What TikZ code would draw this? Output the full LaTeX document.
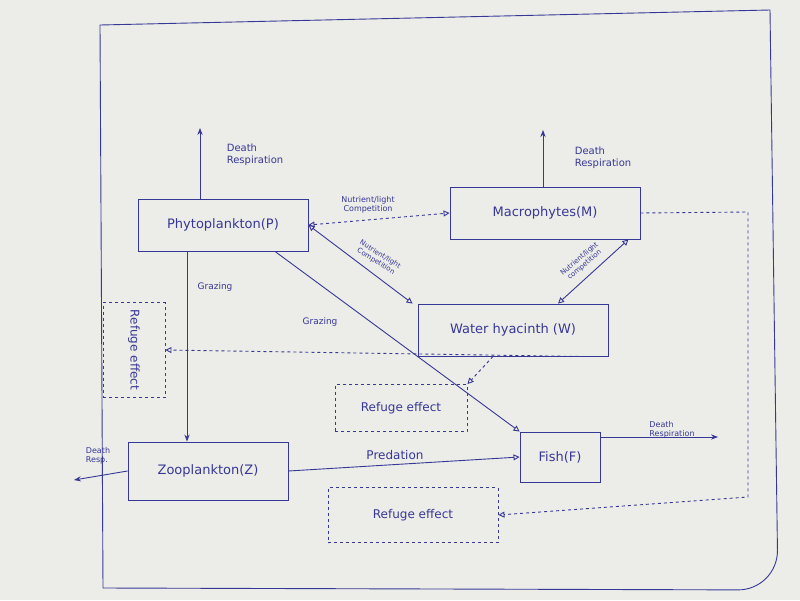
\documentclass[tikz,border=0pt]{standalone}
\usepackage{fontspec}
\setmainfont{DejaVu Sans}
\usetikzlibrary{arrows.meta}
\definecolor{ink}{RGB}{55,55,150}
\definecolor{paper}{RGB}{236,236,232}
\begin{document}
\begin{tikzpicture}[x=1pt,y=-1pt,ink,line width=0.9pt,
 box/.style={draw,minimum width=#1,minimum height=52pt,inner sep=2pt,font=\fontsize{13}{15}\selectfont},
 dbox/.style={draw,dashed,inner sep=2pt,font=\fontsize{12}{14}\selectfont},
 lab/.style={font=\fontsize{8}{9}\selectfont,align=left,inner sep=1pt},
 tri/.style={-{Triangle[open,length=6pt,width=6pt]}},
 dtri/.style={{Triangle[open,length=6pt,width=6pt]}-{Triangle[open,length=6pt,width=6pt]}},
 ar/.style={-{Stealth[length=7pt]}}]
\useasboundingbox (0,0) rectangle (800,600);
\fill[paper] (0,0) rectangle (800,600);
\draw (100,25) -- (770,10) [rounded corners=40pt] -- (778,590) [sharp corners] -- (103,588) -- cycle;
\node[box=170pt] (P) at (223,225) {Phytoplankton(P)};
\node[box=190pt] (M) at (545,213) {Macrophytes(M)};
\node[box=190pt] (W) at (513,330) {Water hyacinth (W)};
\node[box=80pt,minimum height=50pt] (F) at (560,457) {Fish(F)};
\node[box=160pt,minimum height=58pt] (Z) at (208,471) {Zooplankton(Z)};
\node[dbox,minimum width=62pt,minimum height=95pt] (R1) at (134,350) {};
\node[rotate=-90,font=\fontsize{12}{14}\selectfont] at (134,350) {Refuge effect};
\node[dbox,minimum width=132pt,minimum height=47pt] (R2) at (401,408) {Refuge effect};
\node[dbox,minimum width=170pt,minimum height=55pt] (R3) at (413,515) {Refuge effect};
\coordinate (pu) at (200,128); \coordinate (mu) at (543,130);
\coordinate (wd) at (692,320); \coordinate (fd) at (718,437); \coordinate (zd) at (74,480);
\coordinate (gz) at (187,0);
\draw[ar] (P.north-|pu) -- (pu);
\node[lab,font=\fontsize{10}{12}\selectfont] at (255,155) {Death\\Respiration};
\draw[ar] (M.north-|mu) -- (mu);
\node[lab,font=\fontsize{10}{12}\selectfont] at (603,158) {Death\\Respiration};
\draw[dashed,dtri] (P.east) -- (M.west);
\node[lab,align=center] at (368,205) {Nutrient/light\\Competition};
\draw[dtri] (P.east) -- ([xshift=-5pt]W.north west);
\node[lab,align=center,rotate=-32,font=\fontsize{7}{8}\selectfont] at (378,258) {Nutrient/light\\Competition};
\draw[dtri] ([xshift=45pt]W.north) -- ([xshift=-12pt]M.south east);
\node[lab,align=center,rotate=40,font=\fontsize{7}{8}\selectfont] at (582,262) {Nutrient/light\\competition};
\draw[ar] (P.south-|gz) -- (Z.north-|gz);
\node[lab,font=\fontsize{9}{11}\selectfont] at (215,287) {Grazing};
\draw[tri] ([xshift=52pt]P.south) -- (F.north west);
\node[lab,font=\fontsize{9}{11}\selectfont] at (320,322) {Grazing};
\draw[tri] (Z.east) -- (F.west);
\node[font=\fontsize{12}{14}\selectfont] at (395,455) {Predation};
\draw[ar] (Z.west) -- (zd);
\node[lab] at (98,456) {Death\\Resp.};
\draw[ar] (F.east|-fd) -- (fd);
\node[lab] at (672,430) {Death\\Respiration};
\draw[dashed,tri] ([xshift=-30pt]W.south east) -- (R1.east);
\draw[dashed,tri] ([xshift=-20pt]W.south) -- (R2.north east);
\draw[dashed,tri] (M.east) -- (748,212) -- (748,497) -- (R3.east);
\end{tikzpicture}
\end{document}
